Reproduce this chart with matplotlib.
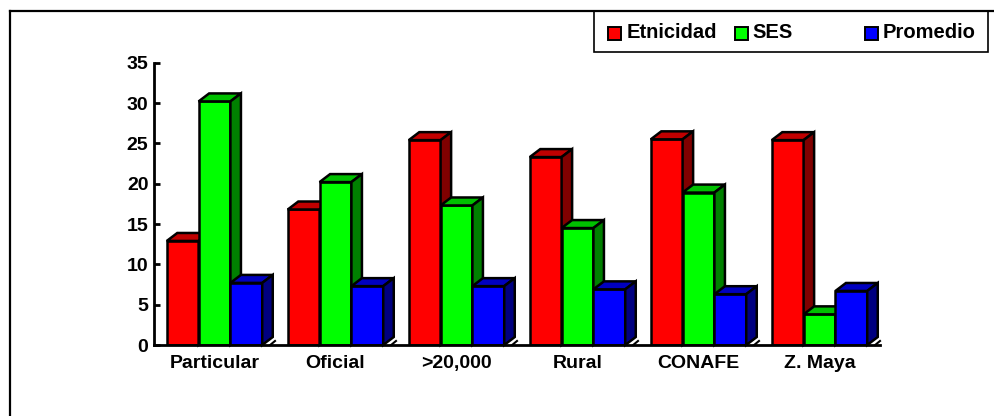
import matplotlib
matplotlib.use('Agg')
import matplotlib.pyplot as plt
import numpy as np
from matplotlib.patches import Polygon, Rectangle
from matplotlib.lines import Line2D

categories = ['Particular', 'Oficial', '>20,000', 'Rural', 'CONAFE', 'Z. Maya']
etnicidad = [12.9, 16.8, 25.4, 23.3, 25.5, 25.4]
ses = [30.2, 20.2, 17.3, 14.5, 18.9, 3.8]
promedio = [7.7, 7.3, 7.3, 6.9, 6.3, 6.7]
series_names = ['Etnicidad', 'SES', 'Promedio']

# front, top, side colours
colors = [('#ff0000', '#c00000', '#800000'),
          ('#00ff00', '#00c000', '#008000'),
          ('#0000ff', '#0000c0', '#000080')]

plt.rcParams['font.family'] = ['Liberation Sans', 'DejaVu Sans']
plt.rcParams['font.weight'] = 'bold'

fig = plt.figure(figsize=(9.95, 4.16), dpi=100)
ax = fig.add_axes([154/995, 1-345/416, 726/995, (345-62.7)/416])

x = np.arange(len(categories)) + 0.5
w = 0.263
dx, dy = 0.087, 0.99
elw = 1.8

for k, vals in enumerate([etnicidad, ses, promedio]):
    face, top, side = colors[k]
    xs = x + (k - 1) * w
    ax.bar(xs, vals, w, color=face, edgecolor='black', linewidth=elw, zorder=3 + k)
    for xi, v in zip(xs, vals):
        x0, x1 = xi - w/2, xi + w/2
        ax.add_patch(Polygon([(x0, v), (x1, v), (x1+dx, v+dy), (x0+dx, v+dy)],
                             closed=True, facecolor=top, edgecolor='black',
                             linewidth=elw, zorder=3 + k, clip_on=False))
        ax.add_patch(Polygon([(x1, 0), (x1+dx, dy), (x1+dx, v+dy), (x1, v)],
                             closed=True, facecolor=side, edgecolor='black',
                             linewidth=elw, zorder=3 + k, clip_on=False))

# small floor ticks at group boundaries
for i in range(1, len(categories) + 1):
    ax.add_line(Line2D([i - 0.04, i], [0, 0.5], color='black', lw=1.5,
                       zorder=10, clip_on=False))

ax.set_xlim(0, len(categories))
ax.set_ylim(0, 35)
ax.set_yticks(range(0, 36, 5))
ax.set_xticks(x)
ax.set_xticklabels(categories)
for s in ['top', 'right']:
    ax.spines[s].set_visible(False)
ax.spines['left'].set_linewidth(2)
ax.spines['bottom'].set_linewidth(2)
ax.spines['bottom'].set_zorder(12)
ax.tick_params(axis='y', direction='in', length=4, width=2, pad=4, labelsize=14)
ax.tick_params(axis='x', length=0, pad=7, labelsize=14)
for lab in ax.get_xticklabels() + ax.get_yticklabels():
    lab.set_fontweight('bold')

# outer frame
fig.add_artist(Line2D([10/995, 1], [1-11/416, 1-11/416], color='black', lw=1.6))
fig.add_artist(Line2D([10/995, 10/995], [0, 1-11/416], color='black', lw=1.6))

# legend box
fig.add_artist(Rectangle((594/995, 1-52/416), (988-594)/995, (52-11)/416,
                         facecolor='white', edgecolor='black', lw=1.2,
                         transform=fig.transFigure))
sq_x = [608, 735, 865]
txt_x = [627, 752, 883]
sq = 13
for k in range(3):
    fig.add_artist(Rectangle((sq_x[k]/995, 1-(33+sq/2)/416), sq/995, sq/416,
                             facecolor=colors[k][0], edgecolor='black', lw=1.4,
                             transform=fig.transFigure))
    fig.text(txt_x[k]/995, 1-33/416, series_names[k], fontsize=14.5,
             fontweight='bold', va='center', ha='left')

fig.savefig('out.png', dpi=100)
